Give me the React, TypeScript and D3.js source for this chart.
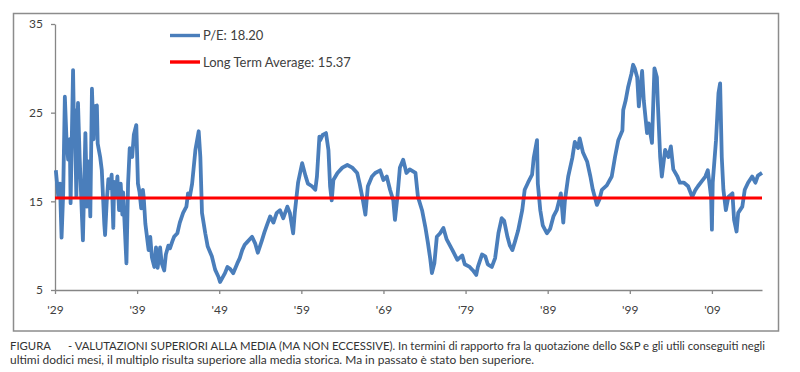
import React, { useRef, useEffect } from 'react';
import * as d3 from 'd3';

// P/E of the S&P (decimal years)
const years = [
  1929.1, 1929.4, 1929.6, 1929.8, 1930.0, 1930.2, 1930.4, 1930.6, 1930.8, 1930.9,
  1931.2, 1931.3, 1931.4, 1931.6, 1931.7, 1931.8, 1932.0, 1932.3, 1932.4, 1932.7,
  1932.9, 1933.1, 1933.3, 1933.5, 1933.7, 1933.8, 1934.1, 1934.2, 1934.5, 1934.7,
  1935.0, 1935.1, 1935.3, 1935.5, 1935.7, 1935.9, 1936.1, 1936.2, 1936.4, 1936.6,
  1936.8, 1937.0, 1937.2, 1937.3, 1937.5, 1937.7, 1937.9, 1938.1, 1938.4, 1938.6,
  1938.9, 1939.1, 1939.3, 1939.5, 1939.7, 1939.8, 1940.0, 1940.2, 1940.4, 1940.6,
  1940.8, 1941.1, 1941.3, 1941.5, 1941.8, 1942.0, 1942.3, 1942.5, 1942.8, 1943.0,
  1943.3, 1943.5, 1943.9, 1944.2, 1944.6, 1945.0, 1945.2, 1945.4, 1945.7, 1946.1,
  1946.5, 1946.7, 1946.9, 1947.3, 1947.6, 1948.1, 1948.5, 1948.9, 1949.1, 1949.4,
  1949.7, 1950.0, 1950.3, 1950.7, 1951.2, 1951.5, 1951.8, 1952.1, 1952.4, 1952.8,
  1953.0, 1953.4, 1953.7, 1954.2, 1954.5, 1954.8, 1955.2, 1955.6, 1956.0, 1956.4,
  1956.8, 1957.3, 1957.6, 1958.0, 1958.2, 1958.6, 1959.1, 1959.5, 1959.8, 1960.3,
  1960.7, 1960.9, 1961.2, 1961.3, 1961.6, 1962.0, 1962.3, 1962.5, 1962.7, 1962.9,
  1963.4, 1964.0, 1964.6, 1965.2, 1965.8, 1966.1, 1966.5, 1966.8, 1967.1, 1967.6,
  1968.0, 1968.6, 1969.0, 1969.4, 1969.8, 1970.2, 1970.4, 1970.7, 1971.0, 1971.4,
  1971.8, 1972.2, 1972.9, 1973.2, 1973.7, 1974.1, 1974.4, 1974.7, 1974.9, 1975.2,
  1975.5, 1975.9, 1976.3, 1976.7, 1977.4, 1978.0, 1978.6, 1978.9, 1979.5, 1979.9,
  1980.3, 1980.5, 1981.0, 1981.4, 1981.7, 1982.2, 1982.6, 1983.0, 1983.4, 1983.7,
  1984.1, 1984.4, 1984.7, 1985.0, 1985.4, 1985.9, 1986.2, 1986.6, 1987.1, 1987.3,
  1987.7, 1987.8, 1988.1, 1988.4, 1988.9, 1989.3, 1989.7, 1990.1, 1990.4, 1990.6,
  1990.9, 1991.1, 1991.5, 1992.0, 1992.3, 1992.7, 1992.9, 1993.3, 1993.8, 1994.2,
  1994.5, 1995.0, 1995.3, 1995.6, 1996.2, 1996.8, 1997.2, 1997.6, 1998.1, 1998.2,
  1998.5, 1998.8, 1999.2, 1999.4, 1999.6, 1999.9, 2000.1, 2000.5, 2000.7, 2001.1,
  2001.3, 2001.7, 2002.0, 2002.3, 2002.4, 2002.7, 2002.9, 2003.3, 2003.7, 2004.0,
  2004.3, 2004.8, 2005.1, 2005.6, 2006.1, 2006.6, 2007.0, 2007.3, 2007.8, 2008.2,
  2008.5, 2008.9, 2009.0, 2009.1, 2009.5, 2009.8, 2010.0, 2010.2, 2010.4, 2010.7,
  2011.0, 2011.5, 2011.7, 2012.0, 2012.2, 2012.7, 2013.0, 2013.4, 2013.9, 2014.3,
  2014.6, 2015.1,
];

const peRatio = [
  18.5, 15.5, 17, 10.9, 16, 26.8, 22, 19.7, 22, 14.8,
  29.8, 24, 25.3, 15.5, 21, 26.1, 20, 12.9, 10.6, 22.7,
  14.4, 19.5, 13.3, 27.7, 22, 25.7, 25.8, 21.5, 20, 18.5,
  12.5, 11.2, 15, 17.5, 16.5, 18, 12, 17.2, 15.5, 17.8,
  14, 17, 13.5, 16, 12, 8.0, 17, 21, 20, 22.5,
  23.6, 17, 16, 14.2, 16.3, 15.5, 12.5, 11, 9.5, 11,
  8.7, 7.6, 9.8, 7.5, 9.8, 8, 7.2, 9, 10, 9.7,
  10.5, 11, 11.4, 12.6, 13.7, 14.4, 15.9, 15.4, 17, 20.8,
  22.9, 20, 13.7, 11.4, 9.9, 8.8, 7.3, 6.5, 5.9, 6.4,
  6.9, 7.6, 7.4, 6.9, 8.0, 8.6, 9.5, 10.1, 10.4, 10.8,
  11, 10.2, 9.2, 10.6, 11.5, 12.3, 13.3, 12.6, 13.7, 14.0,
  13.1, 14.4, 13.7, 11.4, 13.7, 17.1, 19.3, 17.9, 17, 16.7,
  16.3, 17.8, 22.3, 21.9, 22.5, 22.7, 20.8, 16.7, 15.1, 17.4,
  18.2, 18.8, 19.1, 18.8, 18.2, 17, 15.1, 13.5, 16.7, 17.8,
  18.2, 18.5, 17.4, 17.8, 16.3, 15.1, 12.9, 15.5, 18.8, 19.7,
  18.2, 18.6, 18.2, 15.5, 14, 12.1, 10.4, 8.5, 6.9, 8.0,
  11.0, 11.4, 12.0, 10.7, 9.5, 8.4, 8.9, 7.9, 7.6, 7.2,
  6.7, 7.6, 9.0, 8.8, 7.9, 7.6, 8.6, 11.4, 13.1, 12.8,
  11, 10, 9.5, 10.4, 11.7, 14.0, 16.3, 17.1, 18, 19.9,
  21.9, 17, 14, 12.3, 11.4, 11.9, 13.3, 14, 15.1, 15.9,
  12.6, 15.1, 17.8, 19.9, 21.7, 21, 22.1, 20.5, 19.5, 17.8,
  16.3, 14.6, 15.2, 16.3, 16.8, 17.8, 20, 21.9, 23, 25.3,
  26.4, 27.9, 29.4, 30.4, 30.0, 29, 25.7, 29.7, 26.4, 22.7,
  23.8, 21.6, 30, 29, 26.4, 20, 17.8, 20.8, 20, 21.2,
  18.6, 17.8, 17.1, 17.1, 16.7, 15.5, 16.3, 16.7, 17.3, 17.8,
  18.5, 15.5, 11.8, 17.1, 21.9, 27.2, 28.3, 20, 16.3, 14,
  15.5, 15.9, 12.9, 11.6, 13.7, 14.4, 16.3, 17.1, 17.8, 17.1,
  17.9, 18.2,
];

const longTermAverage = 15.37;
const currentPE = 18.2;
const yTicks = [5, 15, 25, 35];
const xTickYears = [1929, 1939, 1949, 1959, 1969, 1979, 1989, 1999, 2009];
const legendLabels = [`P/E: ${currentPE.toFixed(2)}`, `Long Term Average: ${longTermAverage}`];
const captionLines = [
  'FIGURA      - VALUTAZIONI SUPERIORI ALLA MEDIA (MA NON ECCESSIVE). In termini di rapporto fra la quotazione dello S&P e gli utili conseguiti negli',
  'ultimi dodici mesi, il multiplo risulta superiore alla media storica. Ma in passato è stato ben superiore.',
];

const BLUE = '#4a7ebb';
const RED = '#ff0000';
const AXIS = '#868686';
const TEXT = '#404040';
const FONT = 'Lato, "Open Sans", sans-serif';

const App = () => {
  const svgRef = useRef<SVGSVGElement>(null);

  useEffect(() => {
    const svg = d3.select(svgRef.current);
    svg.selectAll('*').remove();

    const x = d3.scaleLinear().domain([1929, 2015.1]).range([55, 762]);
    const y = d3.scaleLinear().domain([5, 35]).range([290, 24]);

    // chart frame
    svg.append('rect')
      .attr('x', 13.5).attr('y', 13.5)
      .attr('width', 765).attr('height', 317.5)
      .attr('fill', 'none')
      .attr('stroke', '#8c8c8c')
      .attr('stroke-width', 1.5);

    const yAxis = svg.append('g')
      .attr('transform', 'translate(55,0)')
      .call(d3.axisLeft(y).tickValues(yTicks).tickSize(4).tickSizeOuter(0).tickPadding(8));

    const xAxis = svg.append('g')
      .attr('transform', 'translate(0,290)')
      .call(d3.axisBottom(x)
        .tickValues(xTickYears)
        .tickFormat(d => `'${String(d).slice(2)}`)
        .tickSize(4).tickSizeOuter(0).tickPadding(11));

    [yAxis, xAxis].forEach(g => {
      g.select('.domain').attr('stroke', AXIS).attr('stroke-width', 1.3);
      g.selectAll('.tick line').attr('stroke', AXIS).attr('stroke-width', 1.3);
      g.selectAll('.tick text')
        .attr('fill', TEXT)
        .style('font-family', FONT)
        .style('font-size', '12px');
    });

    const data = years.map((yr, i) => [yr, peRatio[i]] as [number, number]);

    const line = d3.line<[number, number]>()
      .x(d => x(d[0]))
      .y(d => y(d[1]));

    svg.append('path')
      .datum(data)
      .attr('d', line)
      .attr('fill', 'none')
      .attr('stroke', BLUE)
      .attr('stroke-width', 3.8)
      .attr('stroke-linejoin', 'round');

    svg.append('line')
      .attr('x1', x(1929)).attr('x2', x(2015.1))
      .attr('y1', y(longTermAverage)).attr('y2', y(longTermAverage))
      .attr('stroke', RED)
      .attr('stroke-width', 3);

    // Legend
    const legend = svg.selectAll('.legend')
      .data(legendLabels)
      .enter()
      .append('g')
      .attr('class', 'legend')
      .attr('transform', (d, i) => `translate(170,${35.5 + i * 26.5})`);

    legend.append('line')
      .attr('x1', 0).attr('x2', 30)
      .attr('stroke', (d, i) => (i === 0 ? BLUE : RED))
      .attr('stroke-width', 3.4);

    legend.append('text')
      .attr('x', 33)
      .attr('y', 4.5)
      .attr('fill', TEXT)
      .style('font-family', FONT)
      .style('font-size', '13px')
      .text(d => d);

    // caption under the chart
    svg.selectAll('.caption')
      .data(captionLines)
      .enter()
      .append('text')
      .attr('class', 'caption')
      .attr('x', 10)
      .attr('y', (d, i) => 350 + i * 13.5)
      .attr('textLength', (d, i) => (i === 0 ? 755 : 524))
      .attr('lengthAdjust', 'spacingAndGlyphs')
      .attr('fill', '#333')
      .style('white-space', 'pre')
      .style('font-family', FONT)
      .style('font-size', '11.5px')
      .text(d => d);
  }, []);

  return (
    <svg
      ref={svgRef}
      width={800}
      height={372}
      style={{ position: 'absolute', left: 0, top: 0, display: 'block', background: '#fff' }}
    />
  );
};

export default App;
